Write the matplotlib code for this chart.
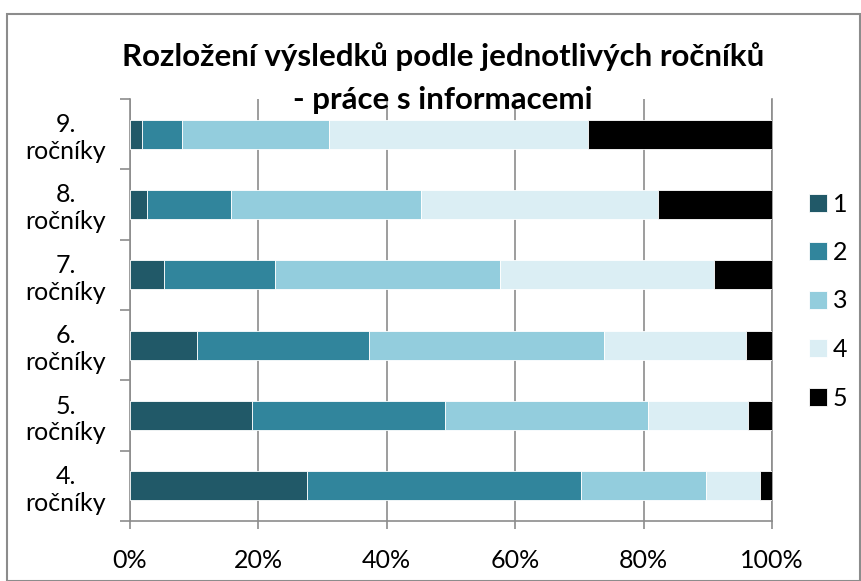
import matplotlib
matplotlib.use("Agg")
import matplotlib.pyplot as plt
from matplotlib.patches import Rectangle
import numpy as np

plt.rcParams['font.family'] = ['Lato', 'DejaVu Sans']

categories = ["4.\nročníky", "5.\nročníky", "6.\nročníky", "7.\nročníky", "8.\nročníky", "9.\nročníky"]
series_names = ["1", "2", "3", "4", "5"]
s1 = [27.7, 19.0, 10.5, 5.3, 2.8, 1.9]
s2 = [42.6, 30.1, 26.8, 17.4, 13.0, 6.2]
s3 = [19.4, 31.6, 36.5, 34.9, 29.6, 23.0]
s4 = [8.5, 15.6, 22.1, 33.4, 36.8, 40.3]
s5 = [1.8, 3.7, 4.1, 9.0, 17.8, 28.6]
colors = ["#215968", "#31859C", "#93CDDD", "#DBEEF4", "#000000"]
xticklabels = ["0%", "20%", "40%", "60%", "80%", "100%"]

fig = plt.figure(figsize=(8.61, 5.81), dpi=100)
W, H = 861, 581
ax = fig.add_axes([129.5 / W, 1 - 521 / H, (772 - 129.5) / W, (521 - 99) / H])

y = np.arange(len(categories))
left = np.zeros(len(categories))
handles = []
for vals, c, name in zip([s1, s2, s3, s4, s5], colors, series_names):
    b = ax.barh(y, vals, left=left, height=0.41, color=c, edgecolor="white",
                linewidth=0.6, label=name, zorder=3)
    handles.append(b)
    left += np.array(vals)

ax.set_xlim(0, 100)
ax.set_ylim(-0.5, len(categories) - 0.5)
ax.set_xticks(np.arange(0, 101, 20))
ax.set_xticklabels(xticklabels, fontsize=18)
ax.set_yticks(y)
ax.set_yticklabels(categories, fontsize=18, ha="center", linespacing=1.2)
ax.tick_params(axis="y", length=0, pad=46)
ax.tick_params(axis="x", length=6, width=1.2, color="#8c8c8c", pad=14)
ax.set_yticks(np.arange(-0.5, len(categories), 1.0), minor=True)
ax.tick_params(axis="y", which="minor", length=7, width=1.2, color="#8c8c8c")

ax.grid(axis="x", color="#8c8c8c", linewidth=1.2, zorder=0)
ax.spines["top"].set_visible(False)
for sp in ["left", "bottom", "right"]:
    ax.spines[sp].set_color("#8c8c8c")
    ax.spines[sp].set_linewidth(1.2)

fig.text(443 / W, 1 - 57 / H, "Rozložení výsledků podle jednotlivých ročníků",
         ha="center", va="center", fontsize=22.5, fontweight="bold")
fig.text(443 / W, 1 - 100 / H, "- práce s informacemi",
         ha="center", va="center", fontsize=22.5, fontweight="bold")

leg = fig.legend(handles=handles, labels=series_names, loc="center left",
                 bbox_to_anchor=(786 / W, 1 - 301 / H), frameon=False,
                 fontsize=18, handlelength=0.72, handleheight=0.72,
                 handletextpad=0.25, labelspacing=1.02)

border = Rectangle((6.5 / W, 0), (860 - 6.5) / W, 1 - 14 / H, transform=fig.transFigure,
                   fill=False, edgecolor="#8c8c8c", linewidth=1.5)
fig.patches.append(border)

fig.savefig("out.png", dpi=100)
